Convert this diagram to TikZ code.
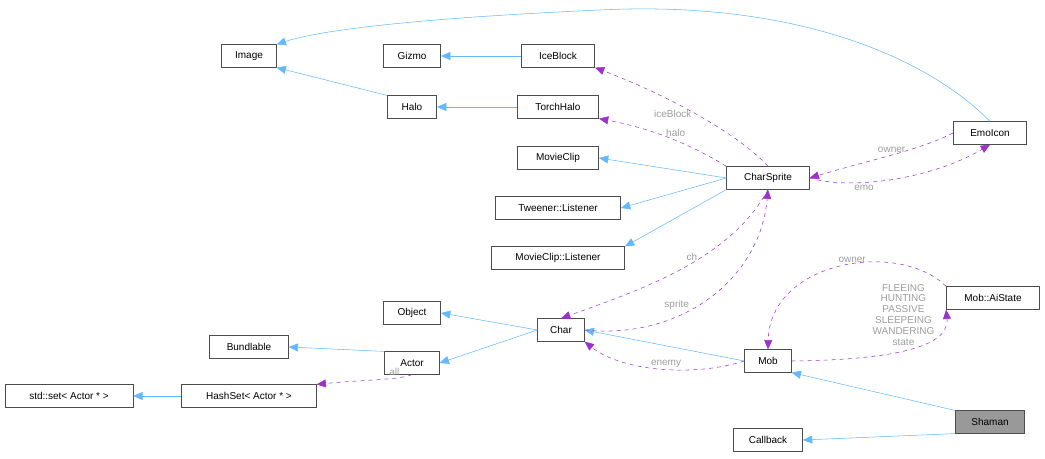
\documentclass[tikz,border=0pt]{standalone}
\usepackage{fontspec}
\setmainfont{Liberation Sans}
\usetikzlibrary{arrows.meta}
\definecolor{inh}{HTML}{63B8FF}
\definecolor{use}{HTML}{9A32CD}
\definecolor{lbl}{HTML}{9C9C9C}
\tikzset{
  cls/.style={draw=black!70,fill=white,minimum height=17pt,inner xsep=4pt,font=\fontsize{7.5}{9}\selectfont},
  isa/.style={draw=inh,-{Triangle[open,fill=inh,length=7pt,width=6pt]}},
  has/.style={draw=use,dashed,-{Triangle[open,fill=use,length=7pt,width=6pt]}},
  tag/.style={text=lbl,font=\fontsize{7.5}{9}\selectfont,inner sep=1pt}
}
\begin{document}
\begin{tikzpicture}[x=0.75pt,y=-0.75pt]
\useasboundingbox (0,0) rectangle (1045,459);
% classes
\node[cls,minimum width=41pt] (image) at (249,56) {Image};
\node[cls,minimum width=43pt] (gizmo) at (412,56) {Gizmo};
\node[cls,minimum width=55pt] (iceblock) at (558,56) {IceBlock};
\node[cls,minimum width=37pt] (halo) at (412,107) {Halo};
\node[cls,minimum width=61pt] (torchhalo) at (558,107) {TorchHalo};
\node[cls,minimum width=61pt] (movieclip) at (558,158) {MovieClip};
\node[cls,minimum width=62pt] (charsprite) at (768,178) {CharSprite};
\node[cls,minimum width=55pt] (emoicon) at (990,133) {EmoIcon};
\node[cls,minimum width=94pt] (tweener) at (558,208) {Tweener::Listener};
\node[cls,minimum width=100pt] (mclisten) at (558,258) {MovieClip::Listener};
\node[cls,minimum width=43pt] (object) at (412,313) {Object};
\node[cls,minimum width=35pt] (char) at (561,330) {Char};
\node[cls,minimum width=59pt] (bundlable) at (249,347) {Bundlable};
\node[cls,minimum width=41pt] (actor) at (412,363) {Actor};
\node[cls,minimum width=35pt] (mob) at (768,361) {Mob};
\node[cls,minimum width=70pt] (aistate) at (993,298) {Mob::AiState};
\node[cls,minimum width=96pt] (stdset) at (69,396) {std::set< Actor * >};
\node[cls,minimum width=101pt] (hashset) at (249,396) {HashSet< Actor * >};
\node[cls,minimum width=52pt,fill=black!40] (shaman) at (990,422) {Shaman};
\node[cls,minimum width=52pt] (callback) at (768,440) {Callback};
% inheritance
\draw[isa] (iceblock) -- (gizmo);
\draw[isa] (halo.north west) -- (image.south east);
\draw[isa] (torchhalo) -- (halo);
\draw[isa] (emoicon.north) .. controls (930,60) and (800,0) .. (600,10) .. controls (420,18) and (320,30) .. (image.north east);
\draw[isa] (charsprite.west) -- (movieclip.east);
\draw[isa] (charsprite.west) -- (tweener.east);
\draw[isa] (charsprite.south west) -- (mclisten.north east);
\draw[isa] (char.west) -- (object.east);
\draw[isa] (char.west) -- (actor.east);
\draw[isa] (actor.north west) -- (bundlable.east);
\draw[isa] (hashset) -- (stdset);
\draw[isa] (mob.west) -- (char.east);
\draw[isa] (shaman.north west) -- (mob.south east);
\draw[isa] (shaman.south west) -- (callback.east);
% usage
\draw[has] (charsprite.north) .. controls (745,140) and (680,100) .. node[tag,pos=0.55,left=2pt]{iceBlock} (iceblock.south east);
\draw[has] (charsprite.north west) .. controls (700,150) and (660,130) .. node[tag,pos=0.5,above=2pt]{halo} (torchhalo.south east);
\draw[has] (emoicon.west) .. controls (920,150) and (870,160) .. node[tag,above=1pt]{owner} (charsprite.east);
\draw[has] (charsprite.east) .. controls (850,190) and (930,180) .. node[tag,below=1pt,pos=0.35]{emo} (emoicon.south);
\draw[has] (charsprite.south) .. controls (730,260) and (640,290) .. node[tag,pos=0.4,left=2pt]{ch} (char.north);
\draw[has] (char.east) .. controls (680,340) and (760,280) .. node[tag,pos=0.35,above=4pt]{sprite} (charsprite.south);
\draw[has] (actor.south) .. controls (400,380) and (360,380) .. node[tag,above=1pt,pos=0.3]{all} (hashset.north east);
\draw[has] (mob.west) .. controls (690,378) and (620,370) .. node[tag,pos=0.45,above=0pt]{enemy} (char.south east);
\draw[has] (aistate.north west) .. controls (900,240) and (770,260) .. node[tag,pos=0.45,above=0pt]{owner} (mob.north);
\draw[has] (mob.east) .. controls (880,360) and (950,350) .. node[tag,pos=0.5,above=2pt,align=center,font=\fontsize{7.5}{8.2}\selectfont]{FLEEING\\HUNTING\\PASSIVE\\SLEEPEING\\WANDERING\\state} (aistate.south west);
\end{tikzpicture}
\end{document}
